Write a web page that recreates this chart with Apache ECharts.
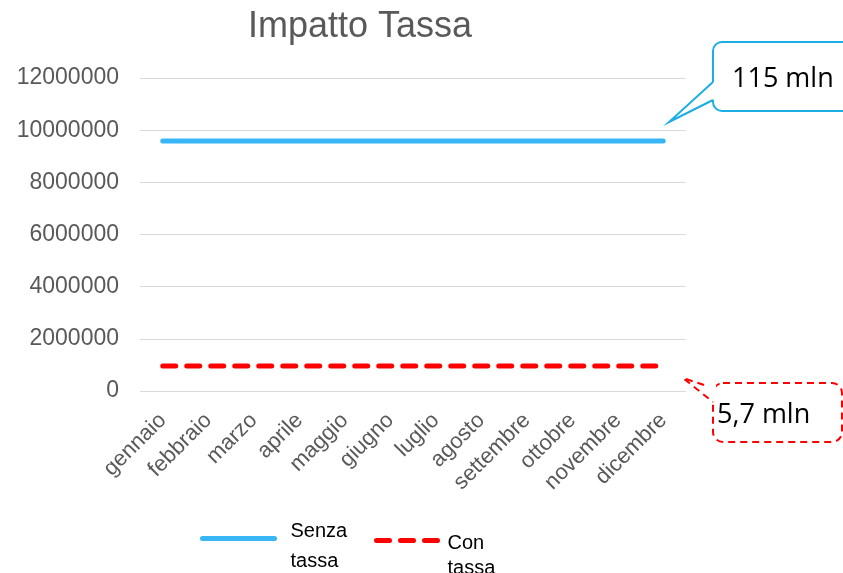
<!DOCTYPE html>
<html>
<head>
<meta charset="utf-8">
<script src="https://cdn.jsdelivr.net/npm/echarts@6/dist/echarts.min.js"></script>
<style>
    html, body { margin: 0; padding: 0; background: #fff; }
    #chart { width: 843px; height: 573px; }
</style>
</head>
<body>
<div id="chart"></div>
<script>
const mesi = ['gennaio', 'febbraio', 'marzo', 'aprile', 'maggio', 'giugno', 'luglio', 'agosto', 'settembre', 'ottobre', 'novembre', 'dicembre']
const senzaTassa = [9583333, 9583333, 9583333, 9583333, 9583333, 9583333, 9583333, 9583333, 9583333, 9583333, 9583333, 9583333]
const conTassa = [958333, 958333, 958333, 958333, 958333, 958333, 958333, 958333, 958333, 958333, 958333, 958333]
const nomiSerie = ['Senza tassa', 'Con tassa']
const etichette = ['115 mln', '5,7 mln']

const grigio = '#595959'
const font = 'Arial, "Liberation Sans", sans-serif'

// testo della legenda su due righe, spostato un po' in basso rispetto alla linea
function legendaTesto(name) {
    let parole = name.split(' ')
    return '{s| }\n{t|' + parole[0] + '}\n{t|' + parole[1] + '}'
}

let legendaBase = {
    orient: 'horizontal',
    padding: 0,
    itemHeight: 10,
    itemStyle: { opacity: 0 },
    lineStyle: { width: 5, cap: 'round' },
    formatter: legendaTesto,
}

let myChart = echarts.init(document.getElementById('chart'))
let option = {
    animation: false,
    title: {
        text: 'Impatto Tassa',
        left: 355,
        top: 4,
        textAlign: 'center',
        textStyle: { fontFamily: font, fontSize: 36, fontWeight: 'normal', color: grigio },
    },
    legend: [
        {
            ...legendaBase,
            left: 200,
            top: 508,
            itemWidth: 72,
            data: [nomiSerie[0]],
            textStyle: {
                rich: {
                    s: { lineHeight: 16, fontSize: 1 },
                    t: { fontFamily: font, fontSize: 20, color: '#000', lineHeight: 30, padding: [0, 0, 0, 11] },
                },
            },
        },
        {
            ...legendaBase,
            left: 374,
            top: 515,
            itemWidth: 66,
            data: [nomiSerie[1]],
            textStyle: {
                rich: {
                    s: { lineHeight: 30, fontSize: 1 },
                    t: { fontFamily: font, fontSize: 20, color: '#000', lineHeight: 25 },
                },
            },
        },
    ],
    grid: {
        left: 140,
        right: 157,
        top: 78,
        bottom: 182,
        containLabel: false,
    },
    xAxis: {
        type: 'category',
        data: mesi,
        boundaryGap: true,
        axisLine: { show: false },
        axisTick: { show: false },
        axisLabel: {
            rotate: 45,
            interval: 0,
            margin: 26,
            fontFamily: font,
            fontSize: 22,
            color: grigio,
        },
    },
    yAxis: {
        type: 'value',
        min: 0,
        max: 12000000,
        interval: 2000000,
        axisLabel: {
            fontFamily: font,
            fontSize: 23,
            color: grigio,
            margin: 21,
            formatter: v => String(v),
        },
        splitLine: { lineStyle: { color: '#d9d9d9', width: 1 } },
    },
    series: [
        {
            name: nomiSerie[0],
            type: 'line',
            data: senzaTassa,
            symbol: 'none',
            lineStyle: { color: '#38b6f5', width: 5, cap: 'round' },
            itemStyle: { color: '#38b6f5' },
        },
        {
            name: nomiSerie[1],
            type: 'line',
            data: conTassa,
            symbol: 'none',
            lineStyle: { color: '#ff0000', width: 5, type: [13, 11], cap: 'round' },
            itemStyle: { color: '#ff0000' },
        },
    ],
    graphic: [
        // callout blu
        {
            type: 'rect',
            shape: { x: 713, y: 42, width: 150, height: 69, r: 9 },
            style: { fill: '#fff', stroke: '#1cade4', lineWidth: 2 },
        },
        {
            type: 'polygon',
            shape: { points: [[669, 122], [713, 100], [716, 100], [716, 82], [713, 82]] },
            style: { fill: '#fff' },
        },
        {
            type: 'polyline',
            shape: { points: [[713, 82], [669, 122], [713, 100]] },
            style: { stroke: '#1cade4', lineWidth: 2, fill: null },
        },
        {
            type: 'text',
            left: 732,
            top: 66,
            style: { text: etichette[0], fontFamily: '"Open Sans", sans-serif', fontSize: 27, fill: '#000' },
        },
        // callout rosso
        {
            type: 'rect',
            shape: { x: 713, y: 383, width: 129, height: 59, r: 10 },
            style: { fill: '#fff', stroke: '#ff0000', lineWidth: 2, lineDash: [7, 5] },
        },
        {
            type: 'polygon',
            shape: { points: [[683, 378], [704, 385], [716, 385], [716, 402], [713, 402]] },
            style: { fill: '#fff' },
        },
        {
            type: 'polyline',
            shape: { points: [[704, 385], [683, 378], [713, 402]] },
            style: { stroke: '#ff0000', lineWidth: 2, fill: null, lineDash: [7, 5] },
        },
        {
            type: 'text',
            left: 717,
            top: 402,
            style: { text: etichette[1], fontFamily: '"Open Sans", sans-serif', fontSize: 27, fill: '#000' },
        },
    ],
}
myChart.setOption(option, true)
</script>
</body>
</html>
